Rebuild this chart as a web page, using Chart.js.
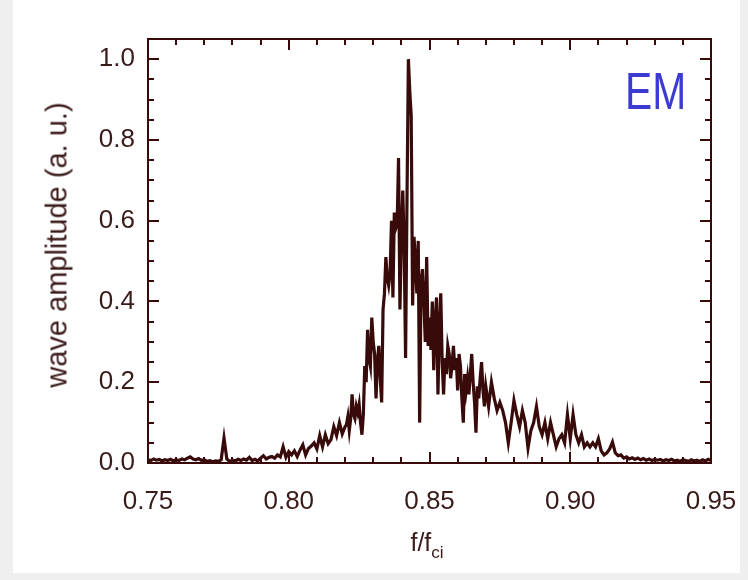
<!DOCTYPE html>
<html>
<head>
<meta charset="utf-8">
<script src="https://cdn.jsdelivr.net/npm/chart.js@4/dist/chart.umd.min.js"></script>
<style>
  html, body { margin: 0; padding: 0; background: #efefef; width: 748px; height: 580px; overflow: hidden; }
  #wrap { position: absolute; left: 13px; top: 0; width: 727px; height: 573px; background: #ffffff; }
  #c { position: absolute; left: 0; top: 0; }
  .lbl { position: absolute; font-family: "Liberation Sans", Arial, Helvetica, sans-serif; color: #3b1a1a; white-space: nowrap; }
  #ytitle { left: 44px; top: 245px; font-size: 29px; transform: translate(-50%, -50%) rotate(-90deg); }
  #xtitle { left: 414px; top: 528px; font-size: 25px; transform: translateX(-50%); }
  #xtitle sub { font-size: 17px; vertical-align: -7px; }
  #tag { left: 612px; top: 66px; font-size: 51px; line-height: 51px; color: #3b3bd4; transform: scaleX(0.8); transform-origin: left top; }
</style>
</head>
<body>
<div id="wrap">
  <canvas id="c" width="727" height="573"></canvas>
  <div class="lbl" id="ytitle">wave amplitude (a. u.)</div>
  <div class="lbl" id="xtitle">f/f<sub>ci</sub></div>
  <div class="lbl" id="tag">EM</div>
</div>
<script>
// Frequency axis (normalised to the ion cyclotron frequency)
const freq = [
  0.750,0.751,0.752,0.753,0.754,0.755,0.756,0.757,0.758,0.759,
  0.760,0.761,0.762,0.763,0.764,0.765,0.766,0.767,0.768,0.769,
  0.770,0.771,0.772,0.773,0.774,0.775,0.776,0.777,0.778,0.779,
  0.780,0.781,0.782,0.783,0.784,0.785,0.786,0.787,0.788,0.789,
  0.790,0.791,0.792,0.793,0.794,0.795,0.796,0.797,0.798,0.799,
  0.800,0.801,0.802,0.803,0.804,0.805,0.806,0.807,0.808,0.809,
  0.810,0.811,0.812,0.813,0.814,0.815,0.816,0.817,0.818,0.819,
  0.820,0.8205,0.8210,0.8215,0.8220,0.8225,0.8230,0.8235,0.8240,0.8245,
  0.8250,0.8255,0.8260,0.8265,0.8270,0.8275,0.8280,0.8285,0.8290,0.8295,
  0.8300,0.8305,0.8310,0.8315,0.8320,0.8325,0.8330,0.8335,0.8340,0.8345,
  0.8350,0.8355,0.8360,0.8365,0.8370,0.8375,0.8380,0.8385,0.8390,0.8395,
  0.8400,0.8405,0.8410,0.8415,0.8420,0.8425,0.8430,0.8435,0.8440,0.8445,
  0.8450,0.8455,0.8460,0.8465,0.8470,0.8475,0.8480,0.8485,0.8490,0.8495,
  0.8500,0.8505,0.8510,0.8515,0.8520,0.8525,0.8530,0.8535,0.8540,0.8545,
  0.8550,0.8555,0.8560,0.8565,0.8570,0.8575,0.8580,0.8585,0.8590,0.8595,
  0.8600,0.8605,0.8610,0.8615,0.8620,0.8625,0.8630,0.8635,0.8640,0.8645,
  0.8650,0.8655,0.8660,0.8665,0.8670,0.8675,0.8680,0.8685,0.8690,0.8695,
  0.8700,0.871,0.872,0.873,0.874,0.875,0.876,0.877,0.878,0.879,
  0.880,0.881,0.882,0.883,0.884,0.885,0.886,0.887,0.888,0.889,
  0.890,0.891,0.892,0.893,0.894,0.895,0.896,0.897,0.898,0.899,
  0.900,0.901,0.902,0.903,0.904,0.905,0.906,0.907,0.908,0.909,
  0.910,0.911,0.912,0.913,0.914,0.915,0.916,0.917,0.918,0.919,
  0.920,0.921,0.922,0.923,0.924,0.925,0.926,0.927,0.928,0.929,
  0.930,0.931,0.932,0.933,0.934,0.935,0.936,0.937,0.938,0.939,
  0.940,0.941,0.942,0.943,0.944,0.945,0.946,0.947,0.948,0.949,
  0.950
];

// Wave amplitude (arbitrary units, peak normalised to 1)
const amplitude = [
  0.008,0.006,0.010,0.007,0.009,0.005,0.008,0.006,0.009,0.005,
  0.008,0.006,0.010,0.008,0.012,0.015,0.010,0.008,0.011,0.006,
  0.008,0.004,0.006,0.003,0.005,0.004,0.008,0.062,0.010,0.004,
  0.007,0.005,0.009,0.006,0.010,0.007,0.014,0.006,0.009,0.005,
  0.012,0.018,0.010,0.014,0.016,0.012,0.020,0.015,0.040,0.014,
  0.028,0.020,0.030,0.016,0.032,0.045,0.020,0.036,0.042,0.050,
  0.035,0.068,0.040,0.070,0.048,0.058,0.090,0.068,0.100,0.072,
  0.090,0.095,0.115,0.080,0.110,0.170,0.120,0.110,0.140,0.125,
  0.145,0.100,0.070,0.120,0.240,0.200,0.330,0.260,0.240,0.360,
  0.300,0.270,0.160,0.250,0.290,0.210,0.150,0.380,0.420,0.510,
  0.460,0.440,0.470,0.600,0.410,0.620,0.580,0.590,0.755,0.380,
  0.560,0.675,0.540,0.260,0.650,1.000,0.920,0.860,0.390,0.560,
  0.500,0.420,0.550,0.100,0.450,0.480,0.400,0.300,0.510,0.290,
  0.360,0.280,0.400,0.230,0.350,0.410,0.170,0.330,0.420,0.250,
  0.170,0.260,0.220,0.290,0.270,0.210,0.240,0.290,0.230,0.260,
  0.180,0.270,0.240,0.160,0.100,0.220,0.180,0.210,0.170,0.220,
  0.270,0.200,0.150,0.075,0.190,0.160,0.210,0.250,0.180,0.140,
  0.190,0.140,0.200,0.160,0.130,0.150,0.130,0.100,0.050,0.100,
  0.155,0.120,0.090,0.130,0.100,0.037,0.080,0.100,0.140,0.090,
  0.070,0.100,0.060,0.100,0.070,0.040,0.060,0.070,0.050,0.120,
  0.060,0.120,0.070,0.050,0.070,0.040,0.050,0.040,0.050,0.040,
  0.060,0.030,0.020,0.025,0.035,0.052,0.025,0.018,0.020,0.012,
  0.015,0.010,0.013,0.009,0.012,0.008,0.011,0.007,0.010,0.006,
  0.009,0.007,0.009,0.005,0.008,0.006,0.009,0.005,0.007,0.004,
  0.008,0.006,0.004,0.008,0.005,0.007,0.004,0.008,0.005,0.009,
  0.006
];

// Axis tick labels
const xTickLabels = ['0.75', '0.80', '0.85', '0.90', '0.95'];
const yTickLabels = ['0.0', '0.2', '0.4', '0.6', '0.8', '1.0'];

const INK = '#380a0a';
const TEXT = '#3b1a1a';

// Boxed frame with inward-pointing ticks on all four sides
const framePlugin = {
  id: 'frame',
  afterDraw(chart) {
    const { ctx, chartArea: a, scales } = chart;
    const xs = scales.x, ys = scales.y;
    ctx.save();
    ctx.strokeStyle = INK;
    ctx.lineWidth = 2;
    ctx.lineCap = 'butt';
    ctx.beginPath();
    // x ticks every 0.01, major every 0.05
    for (let i = 0; i <= 20; i++) {
      const px = Math.round(xs.getPixelForValue(0.75 + i * 0.01));
      const len = (i % 5 === 0) ? 11 : 6;
      ctx.moveTo(px, a.bottom); ctx.lineTo(px, a.bottom - len);
      ctx.moveTo(px, a.top); ctx.lineTo(px, a.top + len);
    }
    // y ticks every 0.05, major every 0.2
    for (let j = 0; j <= 20; j++) {
      const py = Math.round(ys.getPixelForValue(j * 0.05));
      const len = (j % 4 === 0) ? 11 : 6;
      ctx.moveTo(a.left, py); ctx.lineTo(a.left + len, py);
      ctx.moveTo(a.right, py); ctx.lineTo(a.right - len, py);
    }
    ctx.stroke();
    ctx.strokeRect(a.left, a.top, a.right - a.left, a.bottom - a.top);
    ctx.restore();
  }
};

const points = freq.map((f, i) => ({ x: f, y: amplitude[i] }));

new Chart(document.getElementById('c'), {
  type: 'line',
  data: {
    datasets: [{
      data: points,
      borderColor: INK,
      borderWidth: 3.2,
      pointRadius: 0,
      tension: 0,
      fill: false
    }]
  },
  options: {
    responsive: false,
    animation: false,
    devicePixelRatio: 1,
    layout: { padding: { top: 39, right: 29, left: 0, bottom: 0 } },
    plugins: { legend: { display: false }, tooltip: { enabled: false } },
    scales: {
      x: {
        type: 'linear',
        min: 0.75,
        max: 0.95,
        grid: { display: false, drawTicks: false },
        border: { display: false },
        afterFit(s) { s.height = 110; s.paddingLeft = 0; s.paddingRight = 0; },
        afterBuildTicks(s) { s.ticks = xTickLabels.map(t => ({ value: parseFloat(t) })); },
        ticks: {
          padding: 23,
          color: TEXT,
          maxRotation: 0,
          autoSkip: false,
          font: { family: '"Liberation Sans", Arial, sans-serif', size: 26 },
          callback: (v) => xTickLabels.find(t => Math.abs(parseFloat(t) - v) < 1e-9) || ''
        }
      },
      y: {
        type: 'linear',
        min: 0,
        max: 1.05,
        grid: { display: false, drawTicks: false },
        border: { display: false },
        afterFit(s) { s.width = 135; s.paddingTop = 0; s.paddingBottom = 0; },
        afterBuildTicks(s) { s.ticks = yTickLabels.map(t => ({ value: parseFloat(t) })); },
        ticks: {
          padding: 13,
          color: TEXT,
          autoSkip: false,
          font: { family: '"Liberation Sans", Arial, sans-serif', size: 26 },
          callback: (v) => yTickLabels.find(t => Math.abs(parseFloat(t) - v) < 1e-9) || ''
        }
      }
    }
  },
  plugins: [framePlugin]
});
</script>
</body>
</html>
